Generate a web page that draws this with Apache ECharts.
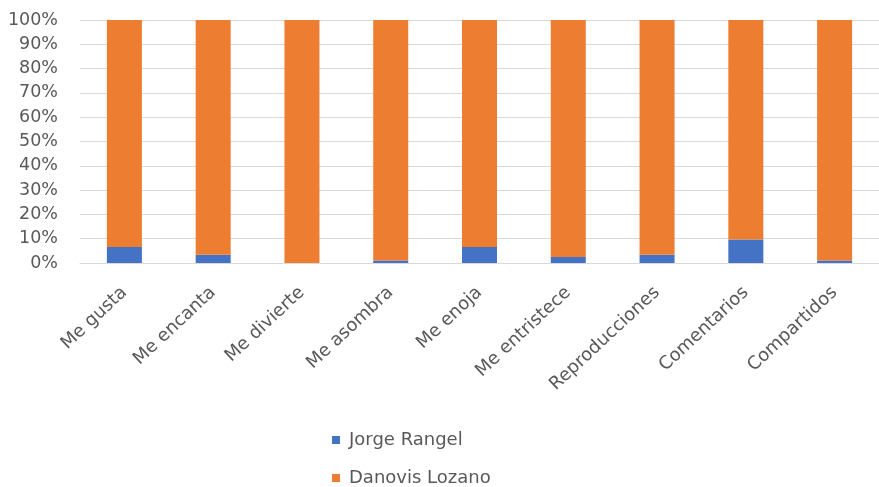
<!DOCTYPE html>
<html>
<head>
<meta charset="utf-8">
<script src="https://cdn.jsdelivr.net/npm/echarts@6/dist/echarts.min.js"></script>
<style>
  html, body { margin: 0; padding: 0; background: #fff; }
  #chart { width: 879px; height: 487px; }
</style>
</head>
<body>
<div id="chart"></div>
<script>
// Share of each interaction type per page (percent of total)
const categories = ['Me gusta', 'Me encanta', 'Me divierte', 'Me asombra', 'Me enoja',
  'Me entristece', 'Reproducciones', 'Comentarios', 'Compartidos'];
const jorgeRangel = [6.6, 3.4, 0, 1, 6.6, 2.5, 3.4, 9.7, 1];
const danovisLozano = [93.4, 96.6, 100, 99, 93.4, 97.5, 96.6, 90.3, 99];
const yTicks = [0, 10, 20, 30, 40, 50, 60, 70, 80, 90, 100];
const seriesNames = ['Jorge Rangel', 'Danovis Lozano'];

const font = 'DejaVu Sans';
const textColor = '#595959';

// one legend block per series, stacked vertically under the plot
const legendBlock = (name, top) => ({
  orient: 'vertical',
  left: 332,
  top: top,
  itemWidth: 8,
  itemHeight: 8,
  icon: 'rect',
  padding: 0,
  textStyle: { fontFamily: font, fontSize: 18, color: textColor, padding: [0, 0, 0, 4] },
  data: [name]
});

const chart = echarts.init(document.getElementById('chart'));
chart.setOption({
  animation: false,
  color: ['#4472C4', '#ED7D31'],
  grid: { left: 80, right: -5, top: 20, bottom: 224, containLabel: false },
  legend: [legendBlock(seriesNames[0], 431), legendBlock(seriesNames[1], 469)],
  xAxis: {
    type: 'category',
    data: categories,
    axisLine: { show: true, lineStyle: { color: '#d9d9d9', width: 1 } },
    axisTick: { show: false },
    axisLabel: {
      rotate: 43,
      margin: 27,
      interval: 0,
      fontFamily: font,
      fontSize: 18,
      color: textColor
    }
  },
  yAxis: {
    type: 'value',
    min: yTicks[0],
    max: yTicks[yTicks.length - 1],
    interval: 10,
    axisLine: { show: false },
    axisTick: { show: false },
    splitLine: { lineStyle: { color: '#d9d9d9', width: 1 } },
    axisLabel: {
      margin: 22,
      fontFamily: font,
      fontSize: 17.5,
      color: textColor,
      formatter: v => v + '%'
    }
  },
  series: [
    {
      name: seriesNames[0],
      type: 'bar',
      stack: 'total',
      barWidth: 35,
      data: jorgeRangel
    },
    {
      name: seriesNames[1],
      type: 'bar',
      stack: 'total',
      barWidth: 35,
      data: danovisLozano
    }
  ]
});
</script>
</body>
</html>
